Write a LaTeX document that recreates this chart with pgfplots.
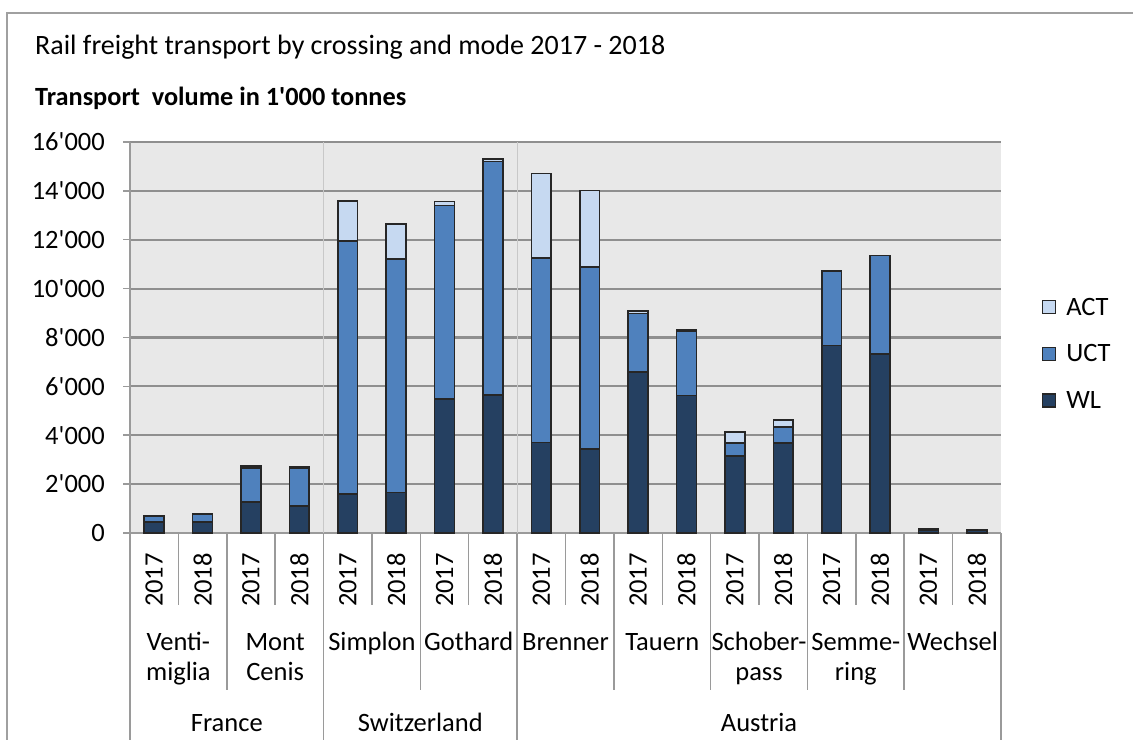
\documentclass[border=0pt]{standalone}
\usepackage{fontspec}
\setmainfont{Carlito}
\usepackage{pgfplots}
\usepackage{pgfplotstable}
\pgfplotsset{compat=1.18}
\definecolor{wlc}{HTML}{254061}
\definecolor{uctc}{HTML}{4F81BD}
\definecolor{actc}{HTML}{C6D9F1}
\definecolor{bgc}{HTML}{E8E8E8}
\definecolor{gridc}{HTML}{8F8F8F}
\definecolor{axc}{HTML}{9A9A9A}
\definecolor{sepc}{HTML}{C8C8C8}
\definecolor{framec}{HTML}{A0A0A0}
\newcommand\lab{\fontsize{26.5bp}{31bp}\selectfont}
\newcommand\q{\textquotesingle}
\pgfplotstableread{
x wl uct act
0 450 250 0
1 450 330 0
2 1270 1390 80
3 1100 1540 60
4 1600 10340 1640
5 1650 9550 1440
6 5480 7920 160
7 5640 9560 100
8 3700 7550 3460
9 3440 7450 3130
10 6580 2410 100
11 5630 2620 50
12 3150 530 450
13 3680 660 280
14 7680 3040 0
15 7320 4040 0
16 120 50 0
17 120 0 0
}\data
\begin{document}
\begin{tikzpicture}
\useasboundingbox (0,0) rectangle (1133bp,740bp);
\draw[framec, line width=1.5bp] (7bp,-20bp) -- (7bp,727bp) -- (1160bp,727bp);
\node[anchor=base west, inner sep=0pt, font=\fontsize{28bp}{32bp}\selectfont] at (35bp,685bp) {Rail freight transport by crossing and mode 2017 - 2018};
\node[anchor=base west, inner sep=0pt, font=\fontsize{26.3bp}{30bp}\selectfont\bfseries] at (35bp,634bp) {Transport\ \ volume in 1\q000 tonnes};
\begin{axis}[
  at={(130bp,207bp)}, anchor=south west,
  width=871bp, height=391bp, scale only axis,
  ybar stacked, bar width=0.41,
  xmin=-0.5, xmax=17.5, ymin=0, ymax=16000,
  clip=false,
  scaled y ticks=false,
  axis background/.style={fill=bgc},
  axis lines*=left,
  axis line style={draw=axc, line width=1.5bp},
  ymajorgrids, grid style={draw=gridc, line width=2.2bp},
  ytick={0,2000,...,16000},
  yticklabels={0,2\q000,4\q000,6\q000,8\q000,10\q000,12\q000,14\q000,16\q000},
  tick align=outside, major tick length=7bp,
  ytick style={draw=axc, line width=1.5bp},
  yticklabel style={font=\lab, anchor=east, inner sep=0pt, xshift=-18bp},
  xtick={0,...,17},
  xticklabels={2017,2018,2017,2018,2017,2018,2017,2018,2017,2018,2017,2018,2017,2018,2017,2018,2017,2018},
  xtick style={draw=none},
  xticklabel style={font=\lab, rotate=90, anchor=east, inner sep=0pt},
  xticklabel shift=13bp,
  reverse legend,
  legend style={at={(1.047,0.458)}, anchor=west, draw=none, fill=none, font=\lab, inner sep=0pt, row sep=24bp, legend cell align=left,
    /tikz/every odd column/.append style={column sep=8bp}},
  every axis plot post/.append style={legend image code/.code={\draw[##1, draw=black!85, line width=1.2bp] (0bp,-6.5bp) rectangle (13bp,6.5bp);}},
]
\addplot[fill=wlc, draw=black!85, line width=1.6bp] table[x=x, y=wl] {\data};
\addplot[fill=uctc, draw=black!85, line width=1.6bp] table[x=x, y=uct] {\data};
\addplot[fill=actc, draw=black!85, line width=1.6bp] table[x=x, y=act] {\data};
\legend{WL,UCT,ACT}
% country separators inside the plot
\draw[sepc, line width=1bp] (axis cs:3.5,0) -- (axis cs:3.5,16000);
\draw[sepc, line width=1bp] (axis cs:7.5,0) -- (axis cs:7.5,16000);
% category table lines
\pgfplotsinvokeforeach{0.5,2.5,4.5,6.5,8.5,10.5,12.5,14.5,16.5}{
  \draw[axc, line width=1.5bp] (axis cs:#1,0) -- (axis cs:#1,-2946);
}
\pgfplotsinvokeforeach{1.5,5.5,9.5,11.5,13.5,15.5}{
  \draw[axc, line width=1.5bp] (axis cs:#1,0) -- (axis cs:#1,-6425);
}
\pgfplotsinvokeforeach{-0.5,3.5,7.5,17.5}{
  \draw[axc, line width=1.5bp] (axis cs:#1,0) -- (axis cs:#1,-9000);
}
% crossing names
\node[anchor=base, inner sep=0pt, font=\lab] at (axis cs:0.5,-4788) {Venti-};
\node[anchor=base, inner sep=0pt, font=\lab] at (axis cs:0.5,-6056) {miglia};
\node[anchor=base, inner sep=0pt, font=\lab] at (axis cs:2.5,-4788) {Mont};
\node[anchor=base, inner sep=0pt, font=\lab] at (axis cs:2.5,-6056) {Cenis};
\node[anchor=base, inner sep=0pt, font=\lab] at (axis cs:4.5,-4788) {Simplon};
\node[anchor=base, inner sep=0pt, font=\lab] at (axis cs:6.5,-4788) {Gothard};
\node[anchor=base, inner sep=0pt, font=\lab] at (axis cs:8.5,-4788) {Brenner};
\node[anchor=base, inner sep=0pt, font=\lab] at (axis cs:10.5,-4788) {Tauern};
\node[anchor=base, inner sep=0pt, font=\lab] at (axis cs:12.5,-4788) {Schober-};
\node[anchor=base, inner sep=0pt, font=\lab] at (axis cs:12.5,-6056) {pass};
\node[anchor=base, inner sep=0pt, font=\lab] at (axis cs:14.5,-4788) {Semme-};
\node[anchor=base, inner sep=0pt, font=\lab] at (axis cs:14.5,-6056) {ring};
\node[anchor=base, inner sep=0pt, font=\lab] at (axis cs:16.5,-4788) {Wechsel};
% countries
\node[anchor=base, inner sep=0pt, font=\lab] at (axis cs:1.5,-8143) {France};
\node[anchor=base, inner sep=0pt, font=\lab] at (axis cs:5.5,-8143) {Switzerland};
\node[anchor=base, inner sep=0pt, font=\lab] at (axis cs:12.5,-8143) {Austria};
\end{axis}
\end{tikzpicture}
\end{document}
